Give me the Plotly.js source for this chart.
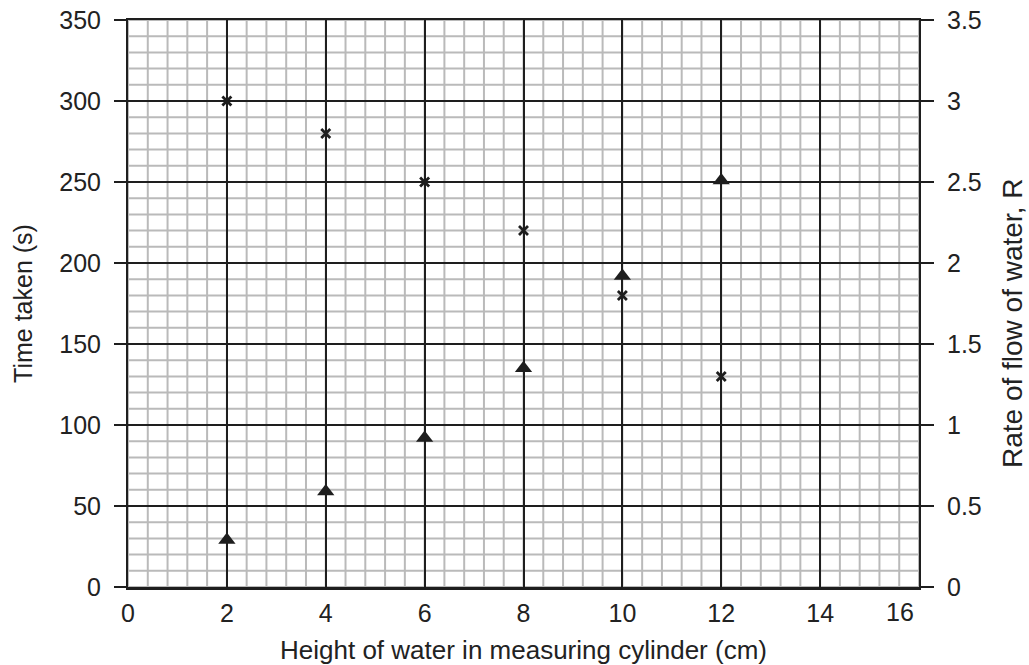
<!DOCTYPE html>
<html>
<head>
<meta charset="utf-8">
<script src="https://cdn.plot.ly/plotly-3.0.1.min.js"></script>
<style>html,body{margin:0;padding:0;background:#fff;}#chart{width:1029px;height:665px;}</style>
</head>
<body>
<div id="chart"></div>
<script>
var heights = [2, 4, 6, 8, 10, 12];
var timeTaken = [300, 280, 250, 220, 180, 130];
var rateHeights = [2, 4, 6, 8, 10, 12];
var rateOfFlow = [0.29, 0.59, 0.92, 1.35, 1.92, 2.51];
var xTickVals = [0, 2, 4, 6, 8, 10, 12, 14];
var xTickText = ['0', '2', '4', '6', '8', '10', '12', '14'];
var lastXLabel = {value: 15.62, text: '16'};

var FONT = 'Liberation Sans, Arial, sans-serif';
var DARK = '#1e1e1e';
var MINOR = '#bababa';

function steps(start, end, step) {
  var out = [];
  var n = Math.round((end - start) / step);
  for (var i = 0; i <= n; i++) out.push(Math.round((start + i * step) * 1000) / 1000);
  return out;
}
var xMinorGrid = steps(0, 16, 0.4);
var yMinorGrid = steps(0, 350, 10);

var shapes = [];
xMinorGrid.forEach(function (v) {
  shapes.push({type: 'line', xref: 'x', yref: 'paper', x0: v, x1: v, y0: 0, y1: 1, layer: 'below',
               line: {color: MINOR, width: 2}});
});
yMinorGrid.forEach(function (v) {
  shapes.push({type: 'line', xref: 'paper', yref: 'y', x0: 0, x1: 1, y0: v, y1: v, layer: 'below',
               line: {color: MINOR, width: 2}});
});

var traces = [
  {
    x: heights, y: timeTaken, type: 'scatter', mode: 'markers', yaxis: 'y',
    marker: {symbol: 'x-thin', size: 9, color: DARK, line: {color: DARK, width: 2.8}},
    showlegend: false, hoverinfo: 'x+y'
  },
  {
    x: rateHeights, y: rateOfFlow, type: 'scatter', mode: 'markers', yaxis: 'y2',
    marker: {symbol: 'triangle-up', size: 15, color: DARK, line: {width: 0}},
    showlegend: false, hoverinfo: 'x+y'
  }
];

var layout = {
  width: 1029, height: 665,
  margin: {l: 128, r: 110, t: 20, b: 78, pad: 0},
  paper_bgcolor: '#fff', plot_bgcolor: '#fff',
  font: {family: FONT, size: 25, color: '#222'},
  xaxis: {
    range: [0, 16], tickmode: 'array', tickvals: xTickVals, ticktext: xTickText,
    showgrid: true, gridcolor: DARK, gridwidth: 2,
    showline: true, linecolor: DARK, linewidth: 2.5, mirror: true,
    zeroline: false, ticks: '', ticklabelstandoff: 2,
    tickfont: {family: FONT, size: 25, color: '#222'},
    title: {text: 'Height of water in measuring cylinder (cm)', standoff: 26, font: {family: FONT, size: 26, color: '#222'}},
    fixedrange: true
  },
  yaxis: {
    range: [0, 350], dtick: 50, tick0: 0,
    showgrid: true, gridcolor: DARK, gridwidth: 2,
    showline: true, linecolor: DARK, linewidth: 2, mirror: true,
    zeroline: false, ticks: 'outside', ticklen: 12, tickwidth: 2, tickcolor: DARK,
    ticklabelstandoff: 8,
    tickfont: {family: FONT, size: 25, color: '#222'},
    title: {text: 'Time taken (s)', standoff: 20, font: {family: FONT, size: 25, color: '#222'}},
    fixedrange: true
  },
  yaxis2: {
    range: [0, 3.5], dtick: 0.5, tick0: 0, overlaying: 'y', side: 'right',
    showgrid: false, zeroline: false, showline: false,
    ticks: 'outside', ticklen: 14, tickwidth: 2, tickcolor: DARK,
    ticklabelstandoff: 8,
    tickfont: {family: FONT, size: 25, color: '#222'},
    fixedrange: true
  },
  shapes: shapes,
  annotations: [
    {x: lastXLabel.value, y: 0, xref: 'x', yref: 'paper', text: lastXLabel.text, showarrow: false,
     xanchor: 'center', yanchor: 'top', yshift: -9, font: {family: FONT, size: 25, color: '#222'}},
    {x: 1.1176, y: 0.4638, xref: 'paper', yref: 'paper', text: 'Rate of flow of water, R', showarrow: false,
     textangle: -90, xanchor: 'center', yanchor: 'middle', font: {family: FONT, size: 28, color: '#222'}}
  ]
};

Plotly.newPlot('chart', traces, layout, {displayModeBar: false, staticPlot: true});
</script>
</body>
</html>
